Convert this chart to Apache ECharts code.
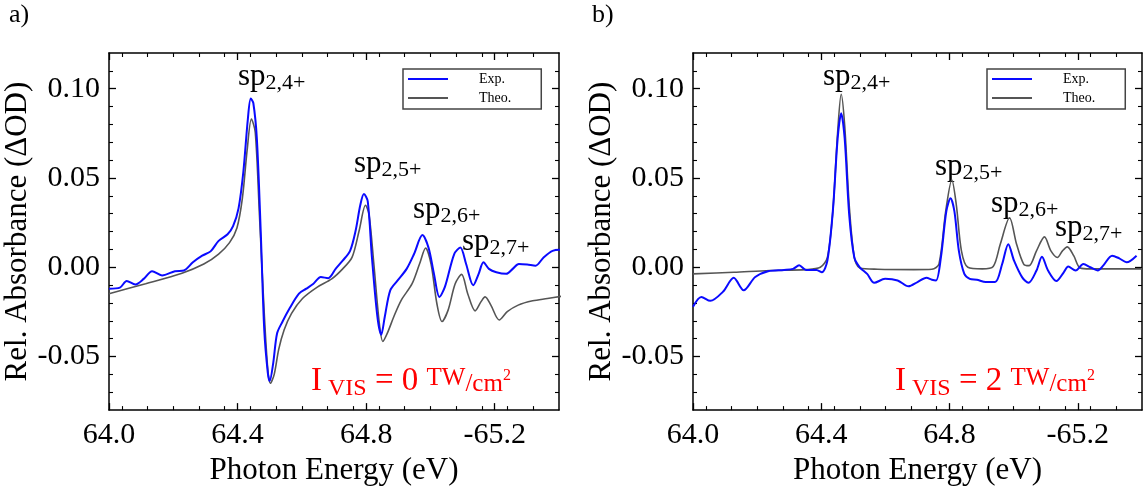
<!DOCTYPE html>
<html>
<head>
<meta charset="utf-8">
<script src="https://cdn.jsdelivr.net/npm/echarts@6/dist/echarts.min.js"></script>
<style>
  html, body { margin: 0; padding: 0; background: #fff; }
  #chart { width: 1143px; height: 491px; }
</style>
</head>
<body>
<div id="chart"></div>
<script>
// ---- Transient absorption spectra, sp(2,n+) resonances ----
// (a) I_VIS = 0 TW/cm^2 : experiment
const expA_E = [64.000,64.034,64.055,64.082,64.108,64.134,64.165,64.205,64.233,64.261,64.290,64.316,64.341,64.369,64.386,64.403,64.418,64.432,64.441,64.449,64.460,64.472,64.483,64.494,64.500,64.511,64.523,64.540,64.562,64.591,64.614,64.636,64.659,64.682,64.705,64.727,64.750,64.767,64.782,64.793,64.805,64.818,64.835,64.847,64.858,64.875,64.898,64.926,64.949,64.975,64.994,65.011,65.028,65.045,65.074,65.093,65.111,65.133,65.150,65.165,65.182,65.205,65.236,65.256,65.275,65.301,65.327,65.352,65.380,65.409];
const expA_OD = [-0.0120,-0.0114,-0.0077,-0.0096,-0.0065,-0.0022,-0.0046,-0.0022,-0.0018,0.0028,0.0065,0.0089,0.0148,0.0185,0.0230,0.0330,0.0535,0.0830,0.0945,0.0920,0.0720,0.0203,-0.0350,-0.0590,-0.0637,-0.0535,-0.0370,-0.0304,-0.0230,-0.0148,-0.0120,-0.0092,-0.0055,-0.0061,-0.0009,0.0037,0.0092,0.0203,0.0350,0.0410,0.0369,0.0055,-0.0277,-0.0378,-0.0277,-0.0129,-0.0074,-0.0009,0.0074,0.0180,0.0110,-0.0037,-0.0166,-0.0110,0.0074,0.0110,0.0018,-0.0101,-0.0037,0.0028,-0.0009,-0.0028,-0.0037,-0.0009,0.0018,0.0015,0.0009,0.0055,0.0092,0.0098];
// (a) theory
const theoA_E = [64.000,64.114,64.227,64.295,64.341,64.375,64.398,64.415,64.430,64.443,64.455,64.468,64.483,64.494,64.502,64.514,64.528,64.545,64.568,64.602,64.648,64.693,64.727,64.756,64.778,64.798,64.809,64.824,64.841,64.852,64.866,64.886,64.909,64.943,64.966,64.985,65.002,65.020,65.036,65.055,65.077,65.097,65.116,65.139,65.157,65.170,65.188,65.214,65.239,65.273,65.318,65.364,65.409];
const theoA_OD = [-0.0148,-0.0092,-0.0033,0.0018,0.0074,0.0138,0.0220,0.0387,0.0660,0.0830,0.0756,0.0295,-0.0258,-0.0572,-0.0650,-0.0600,-0.0460,-0.0350,-0.0258,-0.0175,-0.0111,-0.0065,-0.0009,0.0055,0.0203,0.0347,0.0295,0.0018,-0.0314,-0.0415,-0.0369,-0.0277,-0.0185,-0.0092,0.0018,0.0107,0.0018,-0.0203,-0.0304,-0.0240,-0.0092,-0.0040,-0.0148,-0.0244,-0.0194,-0.0166,-0.0212,-0.0295,-0.0249,-0.0212,-0.0188,-0.0175,-0.0162];
// (b) I_VIS = 2 TW/cm^2 : experiment
const expB_E = [64.000,64.026,64.054,64.093,64.127,64.158,64.194,64.234,64.284,64.312,64.331,64.352,64.385,64.402,64.419,64.436,64.451,64.462,64.473,64.487,64.503,64.520,64.543,64.565,64.599,64.638,64.672,64.700,64.728,64.745,64.758,64.773,64.790,64.803,64.815,64.829,64.846,64.863,64.885,64.913,64.942,64.964,64.983,65.001,65.026,65.046,65.071,65.088,65.107,65.133,65.156,65.170,65.193,65.217,65.239,65.262,65.279,65.307,65.329,65.352,65.383];
const expB_OD = [-0.0221,-0.0166,-0.0188,-0.0138,-0.0059,-0.0129,-0.0055,-0.0022,-0.0015,-0.0009,0.0011,-0.0015,-0.0015,-0.0028,0.0037,0.0314,0.0720,0.0862,0.0720,0.0295,0.0055,0.0000,-0.0037,-0.0087,-0.0065,-0.0074,-0.0107,-0.0083,-0.0059,-0.0070,-0.0074,0.0055,0.0314,0.0387,0.0314,0.0092,-0.0037,-0.0065,-0.0070,-0.0083,-0.0083,0.0018,0.0129,0.0037,-0.0055,-0.0087,-0.0018,0.0059,-0.0018,-0.0077,-0.0028,0.0004,-0.0018,0.0018,0.0000,-0.0018,0.0009,0.0065,0.0050,0.0028,0.0065];
// (b) theory
const theoB_E = [64.000,64.127,64.239,64.352,64.397,64.419,64.436,64.451,64.462,64.473,64.487,64.503,64.520,64.576,64.689,64.745,64.767,64.788,64.807,64.821,64.837,64.857,64.902,64.936,64.958,64.987,65.009,65.031,65.048,65.071,65.096,65.116,65.136,65.152,65.167,65.187,65.207,65.239,65.307,65.400];
const theoB_OD = [-0.0037,-0.0028,-0.0018,-0.0013,0.0000,0.0055,0.0314,0.0756,0.0969,0.0793,0.0350,0.0055,-0.0004,-0.0011,-0.0013,-0.0011,0.0018,0.0314,0.0489,0.0350,0.0092,0.0000,-0.0009,0.0004,0.0129,0.0277,0.0129,0.0018,0.0009,0.0092,0.0170,0.0092,0.0055,0.0092,0.0114,0.0065,-0.0004,-0.0009,-0.0009,-0.0009];

// Axis ticks
const xMajorTicks = [64.0, 64.4, 64.8, 65.2];
const xMinorTicks = [64.04,64.12,64.20,64.28,64.36,64.44,64.52,64.60,64.68,64.76,64.84,64.92,65.00,65.08,65.16,65.24,65.32];
const yMajorTicks = [-0.05, 0.00, 0.05, 0.10];
const yMinorTicks = [-0.07,-0.06,-0.04,-0.03,-0.02,-0.01,0.01,0.02,0.03,0.04,0.06,0.07,0.08,0.09,0.11];

const seriesNames = ['Exp.', 'Theo.'];
const panelTags = ['a)', 'b)'];
const peakNames = ['2,4+', '2,5+', '2,6+', '2,7+'];
const intensities = ['0', '2'];

const FONT = '"Liberation Serif", "Times New Roman", serif';
const BLUE = '#0a0aff';
const GRAY = '#555555';

const grids = [
  { left: 109, top: 53, width: 450, height: 362 },
  { left: 693, top: 53, width: 449, height: 362 }
];

const pairs = (xs, ys) => xs.map((x, i) => [x, ys[i]]);

function fmtX(v) {
  if (Math.abs(v - 65.2) < 1e-6) return '-65.2';
  return v.toFixed(1);
}

const frameLine = { show: true, onZero: false, lineStyle: { color: '#000', width: 1.5 } };

function xAxesFor(gi) {
  const base = { type: 'value', gridIndex: gi, min: 64.0, max: 65.4, splitLine: { show: false } };
  const major = { show: true, inside: true, length: 7, customValues: xMajorTicks, lineStyle: { color: '#000', width: 1.3 } };
  const minor = { show: true, inside: true, length: 4, customValues: xMinorTicks, lineStyle: { color: '#000', width: 1.1 } };
  return [
    Object.assign({}, base, {
      position: 'bottom', axisLine: frameLine, axisTick: major,
      axisLabel: { customValues: xMajorTicks, margin: 10, fontFamily: FONT, fontSize: 30, color: '#000', formatter: fmtX },
      name: 'Photon Energy (eV)', nameLocation: 'middle', nameGap: 40,
      nameTextStyle: { fontFamily: FONT, fontSize: 31, color: '#000' }
    }),
    Object.assign({}, base, { position: 'bottom', axisLine: { show: false, onZero: false }, axisTick: minor, axisLabel: { show: false } }),
    Object.assign({}, base, { position: 'top', axisLine: frameLine, axisTick: major, axisLabel: { show: false } }),
    Object.assign({}, base, { position: 'top', axisLine: { show: false, onZero: false }, axisTick: minor, axisLabel: { show: false } })
  ];
}

function yAxesFor(gi) {
  const base = { type: 'value', gridIndex: gi, min: -0.08, max: 0.12, splitLine: { show: false } };
  const major = { show: true, inside: true, length: 7, customValues: yMajorTicks, lineStyle: { color: '#000', width: 1.3 } };
  const minor = { show: true, inside: true, length: 4, customValues: yMinorTicks, lineStyle: { color: '#000', width: 1.1 } };
  return [
    Object.assign({}, base, {
      position: 'left', axisLine: frameLine, axisTick: major,
      axisLabel: { customValues: yMajorTicks, margin: 9, fontFamily: FONT, fontSize: 30, color: '#000', formatter: v => v.toFixed(2) },
      name: 'Rel. Absorbance (\u0394OD)', nameLocation: 'middle', nameGap: 66,
      nameTextStyle: { fontFamily: FONT, fontSize: 31, color: '#000' }
    }),
    Object.assign({}, base, { position: 'left', axisLine: { show: false, onZero: false }, axisTick: minor, axisLabel: { show: false } }),
    Object.assign({}, base, { position: 'right', axisLine: frameLine, axisTick: major, axisLabel: { show: false } }),
    Object.assign({}, base, { position: 'right', axisLine: { show: false, onZero: false }, axisTick: minor, axisLabel: { show: false } })
  ];
}

function lineSeries(name, gi, data, color, width) {
  return {
    name, type: 'line', xAxisIndex: gi * 4, yAxisIndex: gi * 4,
    data, smooth: 0.3, symbol: 'none', showSymbol: false, clip: true,
    legendIcon: 'rect',
    lineStyle: { color, width }, itemStyle: { color },
    z: name === seriesNames[0] ? 3 : 2
  };
}

// Text runs (base text + sub/superscripts) laid out with measured widths
const mctx = document.createElement('canvas').getContext('2d');
function textW(s, fs) { mctx.font = fs + 'px ' + FONT; return mctx.measureText(s).width; }
function runs(x, baseline, parts, color) {
  const out = [];
  let cx = x;
  parts.forEach(p => {
    out.push({
      type: 'text', x: cx, y: baseline + (p.dy || 0) - 0.34 * p.fs, silent: true,
      style: { text: p.t, font: p.fs + 'px ' + FONT, fill: color, align: 'left', verticalAlign: 'middle' }
    });
    cx += textW(p.t, p.fs);
  });
  return out;
}
function peakLabel(x, baseline, sub) {
  return runs(x, baseline, [{ t: 'sp', fs: 31 }, { t: sub, fs: 22, dy: 4 }], '#000');
}
function intensityLabel(x, baseline, val) {
  return runs(x, baseline, [
    { t: 'I', fs: 33 }, { t: ' VIS', fs: 24, dy: 4 }, { t: ' = ' + val + ' ', fs: 33 },
    { t: 'TW', fs: 25, dy: -6 }, { t: '/cm', fs: 25 }, { t: '2', fs: 16, dy: -12 }
  ], '#ff0000');
}

const peakPosA = [[238, 87], [354, 174], [413, 220], [462, 252]];
const peakPosB = [[823, 87], [935, 177], [991, 214], [1055, 238]];

let graphics = [];
graphics = graphics.concat(runs(9, 24, [{ t: panelTags[0], fs: 26 }], '#000'));
graphics = graphics.concat(runs(592, 24, [{ t: panelTags[1], fs: 26 }], '#000'));
peakNames.forEach((n, i) => {
  graphics = graphics.concat(peakLabel(peakPosA[i][0], peakPosA[i][1], n));
  graphics = graphics.concat(peakLabel(peakPosB[i][0], peakPosB[i][1], n));
});
graphics = graphics.concat(intensityLabel(311, 393, intensities[0]));
graphics = graphics.concat(intensityLabel(895, 393, intensities[1]));

function legendAt(left) {
  return {
    left, top: 69, orient: 'vertical', data: seriesNames,
    itemWidth: 40, itemHeight: 2, itemGap: 5, padding: [3, 30, 4, 4],
    borderColor: '#444', borderWidth: 1.5, selectedMode: false,
    formatter: name => '{t|' + name + '}',
    textStyle: {
      fontFamily: FONT, fontSize: 14, color: '#000',
      rich: { t: { fontFamily: FONT, fontSize: 14, color: '#000', lineHeight: 16, padding: [0, 0, 0, 26] } }
    }
  };
}

const chart = echarts.init(document.getElementById('chart'), null, { renderer: 'canvas' });
chart.setOption({
  animation: false,
  backgroundColor: '#fff',
  grid: grids,
  xAxis: xAxesFor(0).concat(xAxesFor(1)),
  yAxis: yAxesFor(0).concat(yAxesFor(1)),
  legend: [legendAt(403), legendAt(987)],
  series: [
    lineSeries(seriesNames[1], 0, pairs(theoA_E, theoA_OD), GRAY, 1.6),
    lineSeries(seriesNames[0], 0, pairs(expA_E, expA_OD), BLUE, 2),
    lineSeries(seriesNames[1], 1, pairs(theoB_E, theoB_OD), GRAY, 1.6),
    lineSeries(seriesNames[0], 1, pairs(expB_E, expB_OD), BLUE, 2)
  ],
  graphic: graphics
});
</script>
</body>
</html>
